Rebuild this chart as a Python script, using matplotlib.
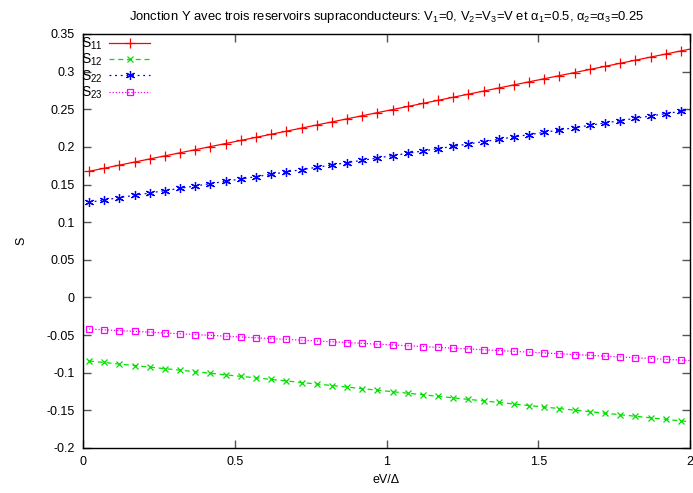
import matplotlib
matplotlib.use("Agg")
import matplotlib.pyplot as plt

plt.rcParams['font.family'] = ['Liberation Sans', 'DejaVu Sans']
plt.rcParams['mathtext.fontset'] = 'custom'
plt.rcParams['mathtext.rm'] = 'Liberation Sans'
plt.rcParams['mathtext.it'] = 'Liberation Sans'

# --- data ---
ev = [0.02, 0.07, 0.12, 0.17, 0.22, 0.27, 0.32, 0.37, 0.42, 0.47,
      0.52, 0.57, 0.62, 0.67, 0.72, 0.77, 0.82, 0.87, 0.92, 0.97,
      1.02, 1.07, 1.12, 1.17, 1.22, 1.27, 1.32, 1.37, 1.42, 1.47,
      1.52, 1.57, 1.62, 1.67, 1.72, 1.77, 1.82, 1.87, 1.92, 1.97, 2.02]

s11 = [0.1676, 0.1717, 0.1758, 0.1799, 0.1840, 0.1881, 0.1922, 0.1963, 0.2004, 0.2045,
       0.2086, 0.2127, 0.2168, 0.2209, 0.2250, 0.2291, 0.2332, 0.2373, 0.2414, 0.2455,
       0.2496, 0.2537, 0.2578, 0.2619, 0.2660, 0.2701, 0.2742, 0.2783, 0.2824, 0.2865,
       0.2906, 0.2947, 0.2988, 0.3029, 0.3070, 0.3111, 0.3152, 0.3193, 0.3234, 0.3275, 0.3316]

s12 = [-0.0844, -0.0864, -0.0885, -0.0905, -0.0926, -0.0946, -0.0966, -0.0987, -0.1007, -0.1028,
       -0.1048, -0.1068, -0.1089, -0.1109, -0.1130, -0.1150, -0.1170, -0.1191, -0.1211, -0.1232,
       -0.1252, -0.1272, -0.1293, -0.1313, -0.1334, -0.1354, -0.1374, -0.1395, -0.1415, -0.1436,
       -0.1456, -0.1476, -0.1497, -0.1517, -0.1538, -0.1558, -0.1578, -0.1599, -0.1619, -0.1640, -0.1660]

s22 = [0.1264, 0.1295, 0.1326, 0.1357, 0.1388, 0.1419, 0.1450, 0.1481, 0.1512, 0.1543,
       0.1574, 0.1605, 0.1636, 0.1667, 0.1698, 0.1729, 0.1760, 0.1791, 0.1822, 0.1853,
       0.1884, 0.1915, 0.1946, 0.1977, 0.2008, 0.2039, 0.2070, 0.2101, 0.2132, 0.2163,
       0.2194, 0.2225, 0.2256, 0.2287, 0.2318, 0.2349, 0.2380, 0.2411, 0.2442, 0.2473, 0.2504]

s23 = [-0.0419, -0.0430, -0.0440, -0.0451, -0.0461, -0.0472, -0.0483, -0.0493, -0.0504, -0.0514,
       -0.0525, -0.0536, -0.0546, -0.0557, -0.0567, -0.0578, -0.0589, -0.0599, -0.0610, -0.0620,
       -0.0631, -0.0642, -0.0652, -0.0663, -0.0673, -0.0684, -0.0695, -0.0705, -0.0716, -0.0726,
       -0.0737, -0.0748, -0.0758, -0.0769, -0.0779, -0.0790, -0.0801, -0.0811, -0.0822, -0.0832, -0.0843]

labels = [r'$\mathregular{S_{11}}$', r'$\mathregular{S_{12}}$',
          r'$\mathregular{S_{22}}$', r'$\mathregular{S_{23}}$']

xticks = [0, 0.5, 1, 1.5, 2]
xticklabels = ['0', '0.5', '1', '1.5', '2']
yticks = [-0.2, -0.15, -0.1, -0.05, 0, 0.05, 0.1, 0.15, 0.2, 0.25, 0.3, 0.35]
yticklabels = ['-0.2', '-0.15', '-0.1', '-0.05', '0', '0.05', '0.1', '0.15',
               '0.2', '0.25', '0.3', '0.35']

fig = plt.figure(figsize=(6.93, 4.93), dpi=100)
ax = fig.add_axes([83 / 693, 45 / 493, 607 / 693, 414 / 493])

ax.plot(ev, s11, color='#ff0000', lw=0.9, ls='-', marker='+', ms=7, mew=0.9, label=labels[0])
ax.plot(ev, s12, color='#00e000', lw=0.9, ls=(0, (4, 3)), marker='x', ms=5, mew=0.9, label=labels[1])
ax.plot(ev, s22, color='#0000ff', lw=0.9, ls=(0, (1.5, 3)), marker=(6, 2, 0), ms=6.5, mew=0.9,
        label=labels[2])
ax.plot(ev, s23, color='#ff00ff', lw=0.9, ls=(0, (1, 1.5)), marker='s', ms=5, mew=0.9,
        mfc='none', label=labels[3])

ax.set_xlim(0, 2)
ax.set_ylim(-0.2, 0.35)
ax.set_xticks(xticks)
ax.set_xticklabels(xticklabels)
ax.set_yticks(yticks)
ax.set_yticklabels(yticklabels)
ax.tick_params(direction='in', length=6, width=1, color='#555555', labelsize=9,
               top=True, right=True, pad=6)
for sp in ax.spines.values():
    sp.set_linewidth(1)
    sp.set_color('black')

ax.set_xlabel('eV/Δ', fontsize=9, labelpad=4)
ax.set_ylabel('S', fontsize=9, labelpad=14)
ax.set_title(r'Jonction Y avec trois reservoirs supraconducteurs: V$_1$=0, V$_2$=V$_3$=V et '
             r'$\mathregular{\alpha_1}$=0.5, $\mathregular{\alpha_2}$=$\mathregular{\alpha_3}$=0.25',
             fontsize=9.4, pad=10)

leg = ax.legend(loc='upper left', bbox_to_anchor=(-0.006, 1.0), frameon=False,
                markerfirst=False, numpoints=1, fontsize=10, handlelength=2.9,
                handletextpad=0.5, labelspacing=0.0, borderaxespad=0, borderpad=0.1)

fig.savefig('out.png', dpi=100)
